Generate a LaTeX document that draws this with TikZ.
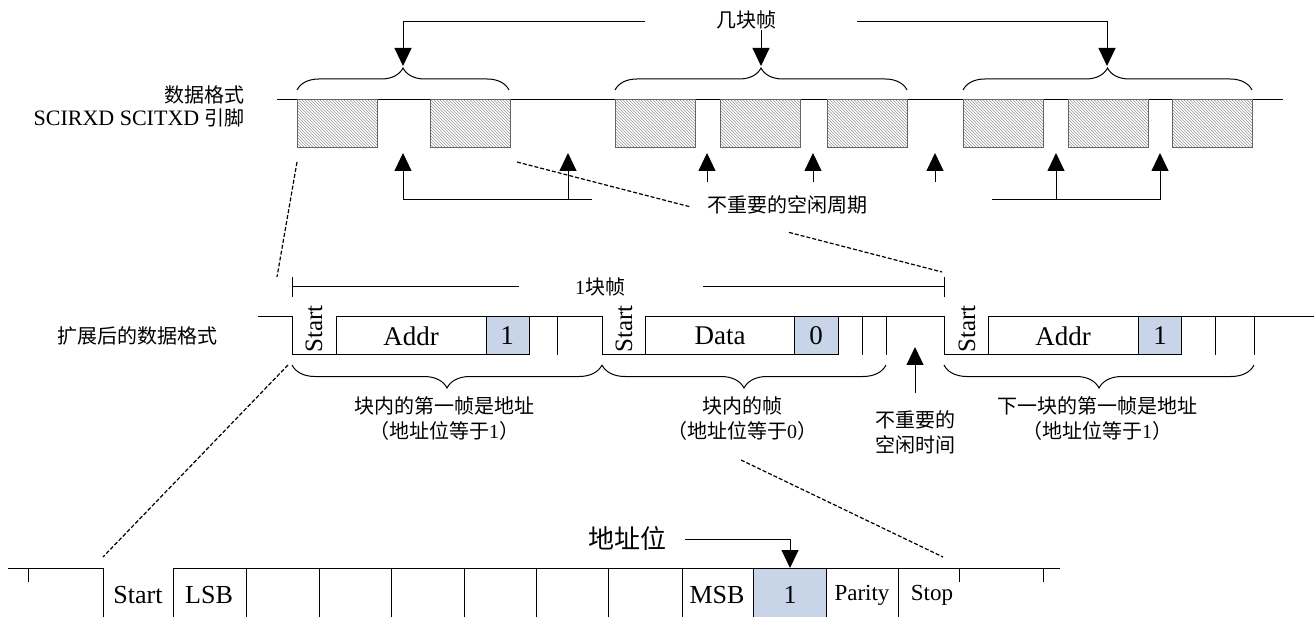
\documentclass[tikz,border=0pt]{standalone}
\usepackage{fontspec}
\setmainfont{Liberation Serif}
\newfontfamily\cjk{Noto Sans CJK SC}
\usetikzlibrary{arrows.meta,decorations.pathreplacing,patterns,calc}
\definecolor{bitblue}{RGB}{200,213,233}
\definecolor{hatchgray}{RGB}{150,150,150}
\definecolor{boxgray}{RGB}{100,100,100}
\begin{document}
\begin{tikzpicture}[x=1pt,y=-1pt,
  ln/.style={line width=1pt,black},
  arr/.style={line width=1pt,-{Triangle[length=18pt,width=17pt]}},
  dashln/.style={line width=1.2pt,dash pattern=on 4pt off 2pt},
  hbox/.style={draw=boxgray,line width=1pt,pattern=north west lines,pattern color=hatchgray,
    minimum width=80pt,minimum height=48pt,inner sep=0pt,outer sep=0pt,anchor=north west},
  upbrace/.style={decorate,decoration={brace,amplitude=22pt},line width=1pt},
  dnbrace/.style={decorate,decoration={brace,amplitude=23pt},line width=1pt},
  zh/.style={font=\cjk\fontsize{20pt}{25pt}\selectfont,inner sep=1pt,align=center},
  lat/.style={font=\fontsize{20pt}{24pt}\selectfont,inner sep=1pt},
  mid/.style={font=\fontsize{27pt}{30pt}\selectfont,inner sep=0pt},
  big/.style={font=\fontsize{26pt}{30pt}\selectfont,inner sep=0pt},
  sml/.style={font=\fontsize{23pt}{26pt}\selectfont,inner sep=0pt},
  rot/.style={font=\fontsize{25pt}{28pt}\selectfont,inner sep=0pt,rotate=90}
]
\useasboundingbox (0,0) rectangle (1314,617);

% ---------- top: data format ----------
\node[zh,anchor=east] (lab1) at (246,95) {数据格式};
\node[lat,anchor=east,font=\fontsize{22pt}{26pt}\selectfont] (lab2) at (246,118) {SCIRXD SCITXD {\cjk\fontsize{20pt}{24pt}\selectfont 引脚}};
\draw[ln] (277,100) -- (1283,100);
\foreach \a [count=\i] in {297,430,615,720,827,963,1068,1172}
  \node[hbox] (b\i) at (\a,100) {};

% braces above
\draw[upbrace] (297,90) -- (509,90);
\draw[upbrace] (615,90) -- (907,90);
\draw[upbrace] (963,90) -- (1252,90);
\coordinate (c1) at (403,66);
\coordinate (c2) at (761,66);
\coordinate (c3) at (1107,66);
\node[zh] (jk) at (746,20) {几块帧};
\draw[arr] (645,22) -- (c1 |- 0,22) -- (c1);
\draw[arr] (jk.south -| c2) -- (c2);
\draw[arr] (857,22) -- (c3 |- 0,22) -- (c3);

% idle-period arrows
\draw[arr] (592,200) -- (403,200) -- (403,153);
\draw[arr] (568,200) -- (568,153);
\draw[arr] (707,182) -- (707,153);
\draw[arr] (813,182) -- (813,153);
\draw[arr] (935,182) -- (935,153);
\draw[arr] (992,200) -- (1160,200) -- (1160,153);
\draw[arr] (1056,200) -- (1056,153);

% dashed zoom lines (top -> middle)
\coordinate (d1a) at (297,162);
\coordinate (d1b) at (277,277);
\draw[dashln] (d1a) -- (d1b);
\coordinate (d2a) at (517,162);
\coordinate (d2b) at (942,272);
\draw[dashln] (d2a) -- ($(d2a)!0.41!(d2b)$);
\draw[dashln] ($(d2a)!0.64!(d2b)$) -- (d2b);
\node[zh] (idle) at (787,205) {不重要的空闲周期};

% ---------- middle: extended format ----------
\node[zh] (lab3) at (137,336) {扩展后的数据格式};

% 1 block frame dimension
\draw[ln] (292,277) -- (292,297);
\draw[ln] (944,277) -- (944,297);
\node[lat] (blk) at (600,287) {1{\cjk 块帧}};
\draw[ln] (292,287) -- (519,287);
\draw[ln] (703,287) -- (944,287);

% blue address bits
\fill[bitblue] (486,317) rectangle (529,355);
\fill[bitblue] (794,317) rectangle (838,355);
\fill[bitblue] (1138,317) rectangle (1181,355);

% signal lines
\draw[ln] (258,317) -- (292,317) -- (292,355) -- (529,355);
\draw[ln] (336,355) -- (336,317) -- (602,317) -- (602,355) -- (838,355);
\draw[ln] (645,355) -- (645,317) -- (944,317) -- (944,355) -- (1181,355);
\draw[ln] (988,355) -- (988,317) -- (1314,317);
\foreach \x in {486,529,557,794,838,862,886,1138,1181,1215,1254}
  \draw[ln] (\x,317) -- (\x,355);

\node[rot] (s1) at (314,329) {Start};
\node[rot] (s2) at (624,329) {Start};
\node[rot] (s3) at (967,329) {Start};
\node[mid] (a1) at (411,336) {Addr};
\node[mid] (v1) at (507,336) {1};
\node[mid] (dt) at (720,336) {Data};
\node[mid] (v0) at (816,336) {0};
\node[mid] (a2) at (1063,336) {Addr};
\node[mid] (v2) at (1160,336) {1};

% braces below
\draw[dnbrace] (602,365) -- (292,365);
\draw[dnbrace] (886,365) -- (602,365);
\draw[dnbrace] (1254,365) -- (944,365);
\node[zh] (t1) at (444,419) {块内的第一帧是地址\\（地址位等于{\rmfamily 1}）};
\node[zh] (t2) at (742,419) {块内的帧\\（地址位等于{\rmfamily 0}）};
\node[zh] (t3) at (1097,419) {下一块的第一帧是地址\\（地址位等于{\rmfamily 1}）};

% idle time arrow
\node[zh] (t4) at (915,432) {不重要的\\空闲时间};
\draw[arr] (915,393) -- (915,347);

% dashed zoom lines (middle -> bottom)
\coordinate (d3a) at (288,365);
\coordinate (d3b) at (103,557);
\draw[dashln] (d3a) -- (d3b);
\coordinate (d4a) at (741,460);
\coordinate (d4b) at (943,557);
\draw[dashln] (d4a) -- (d4b);

% ---------- bottom: bit detail ----------
\fill[bitblue] (753,568) rectangle (826,617);
\draw[ln] (8,568) -- (103,568) -- (103,617);
\draw[ln] (173,617) -- (173,568) -- (1060,568);
\foreach \x in {246,319,391,464,536,608,682,753,826,898}
  \draw[ln] (\x,568) -- (\x,617);
\foreach \x in {28,959,1043}
  \draw[ln] (\x,568) -- (\x,582);

\node[big] (bs) at (138,595) {Start};
\node[big] (bl) at (209,595) {LSB};
\node[big] (bm) at (717,595) {MSB};
\node[big] (b1v) at (790,595) {1};
\node[sml] (bp) at (862,595) {Parity};
\node[sml] (bst) at (932,595) {Stop};

\node[font=\cjk\fontsize{26pt}{30pt}\selectfont,inner sep=1pt] (addrbit) at (627,539) {地址位};
\coordinate (tipb) at (790,568);
\draw[arr] (685,539) -- (tipb |- 0,539) -- (tipb);
\end{tikzpicture}
\end{document}
